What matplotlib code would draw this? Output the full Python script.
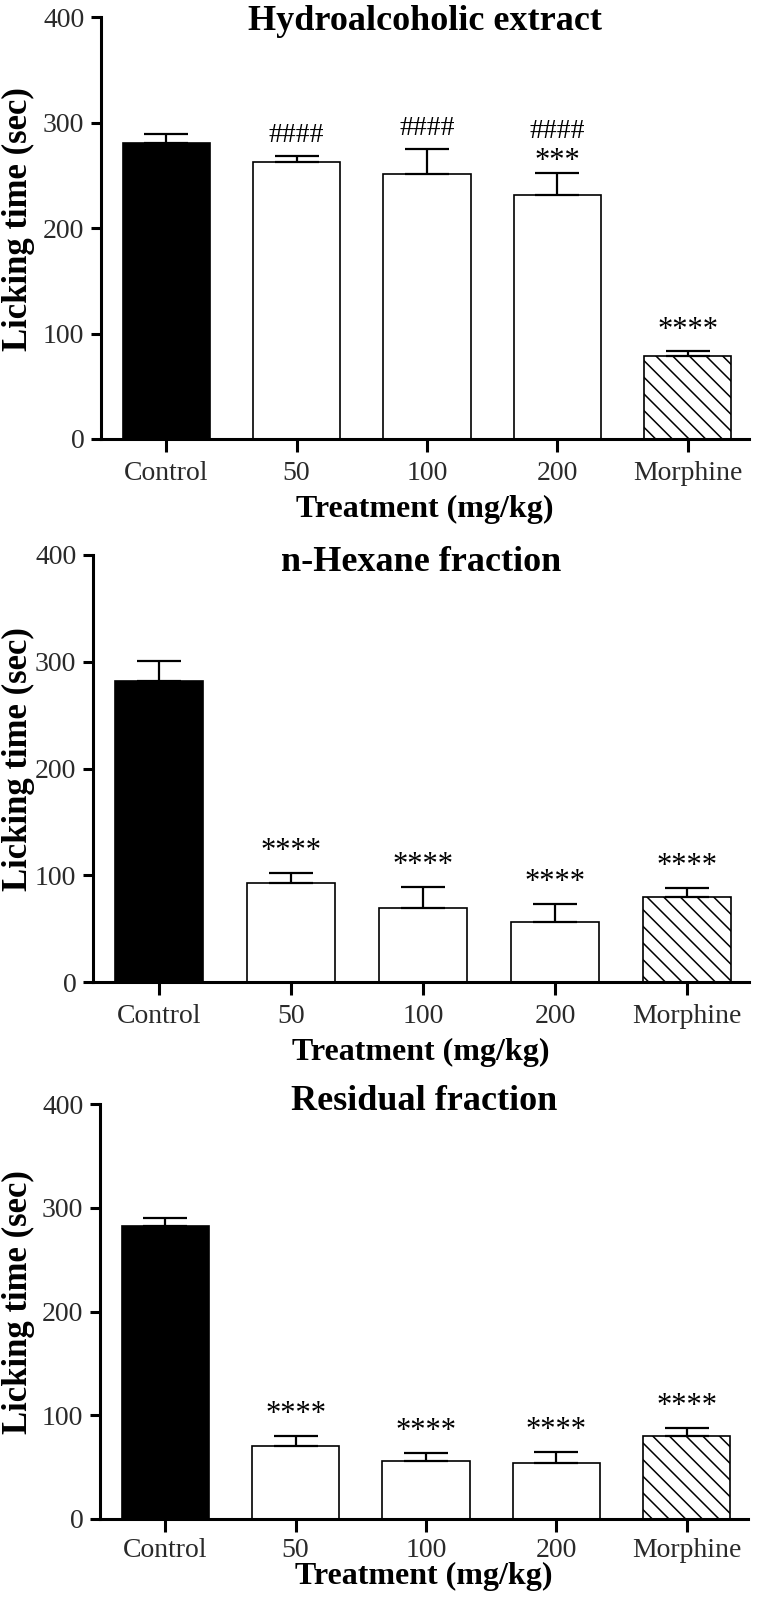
import matplotlib
matplotlib.use("Agg")
import matplotlib.pyplot as plt

# ---------------- data ----------------
categories = ["Control", "50", "100", "200", "Morphine"]

hydro_mean = [281, 263, 251, 231, 79]
hydro_sem = [8, 5, 24, 21, 4]
hydro_annot = [[], ["####"], ["####"], ["***", "####"], ["****"]]

hexane_mean = [282, 93, 69, 56, 80]
hexane_sem = [19, 9, 20, 17, 8]
hexane_annot = [[], ["****"], ["****"], ["****"], ["****"]]

residual_mean = [282, 70, 56, 54, 80]
residual_sem = [8, 10, 8, 11, 8]
residual_annot = [[], ["****"], ["****"], ["****"], ["****"]]

titles = ["Hydroalcoholic extract", "n-Hexane fraction", "Residual fraction"]
y_ticks = [0, 100, 200, 300, 400]
x_label = "Treatment (mg/kg)"
y_label = "Licking time (sec)"

# ---------------- style ----------------
plt.rcParams["font.family"] = ["Liberation Serif", "DejaVu Serif"]
plt.rcParams["hatch.color"] = "black"
plt.rcParams["hatch.linewidth"] = 1.1

W, H = 760, 1600
fig = plt.figure(figsize=(W / 100, H / 100), dpi=100)

# pixel boxes (left, top, right, bottom), title baseline (px from top),
# tick-label pad and x-label pad (points)
layout = [
    ((101, 17, 749, 439), 30, 7, 6),
    ((93, 555, 749, 982), 571, 7, 6),
    ((100, 1104, 748, 1519), 1110, 5, -1),
]

panels = [
    (hydro_mean, hydro_sem, hydro_annot),
    (hexane_mean, hexane_sem, hexane_annot),
    (residual_mean, residual_sem, residual_annot),
]

fills = ["black", "white", "white", "white", "white"]
hatches = ["", "", "", "", "\\" * 2]
tick_color = "#2a2a2a"

for (box, title_y, tpad, lpad), (means, sems, annots), title in zip(layout, panels, titles):
    l, t, r, b = box
    ax = fig.add_axes([l / W, 1 - b / H, (r - l) / W, (b - t) / H])
    xs = list(range(len(categories)))
    for x, m, fc, h in zip(xs, means, fills, hatches):
        ax.bar(x, m, width=0.67, color=fc, edgecolor="black", linewidth=1.2,
               hatch=h, zorder=2)
    ax.errorbar(xs, means, yerr=[[0] * len(sems), sems], fmt="none",
                ecolor="black", elinewidth=1.6, capsize=15.5, capthick=1.6,
                zorder=3)
    for x, m, s, labs in zip(xs, means, sems, annots):
        base = 10 if len(labs) == 1 else 3
        for k, lab in enumerate(labs):
            ax.annotate(lab, xy=(x, m + s), xytext=(0, base + 22 * k),
                        textcoords="offset points", ha="center",
                        va="baseline", fontsize=22 if "*" in lab else 20,
                        color="black")
    ax.set_xlim(-0.5, 4.47)
    ax.set_ylim(0, 400)
    ax.set_yticks(y_ticks)
    ax.set_xticks(xs)
    ax.set_xticklabels(categories)
    for sp in ["top", "right"]:
        ax.spines[sp].set_visible(False)
    for sp in ["left", "bottom"]:
        ax.spines[sp].set_linewidth(2.2)
    ax.tick_params(axis="y", length=7, width=2.2, pad=5, labelsize=20,
                   labelcolor=tick_color)
    ax.tick_params(axis="x", length=9, width=2.2, pad=tpad, labelsize=20,
                   labelcolor=tick_color)
    ax.set_xlabel(x_label, fontsize=23, fontweight="bold", labelpad=lpad)
    fig.text(18 / W, 1 - ((t + b) / 2 - 9) / H, y_label, rotation=90,
             ha="center", va="center", fontsize=25, fontweight="bold")
    fig.text(((l + r) / 2) / W, 1 - title_y / H, title, ha="center",
             va="baseline", fontsize=26, fontweight="bold")

fig.savefig("out.png", dpi=100, facecolor="white")
